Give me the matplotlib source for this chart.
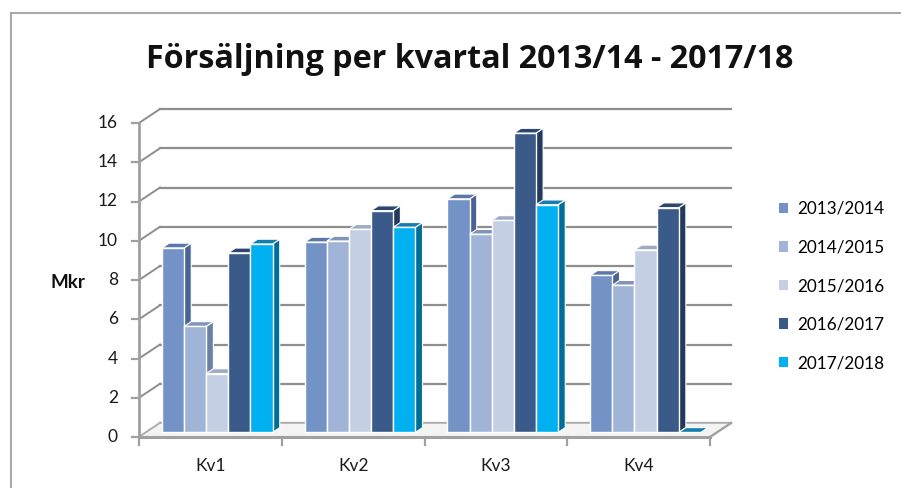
"""Försäljning per kvartal - pseudo-3D clustered columns (Excel style)."""

import matplotlib

matplotlib.use("Agg")

import matplotlib.pyplot as plt  # noqa: E402
from matplotlib.lines import Line2D  # noqa: E402
from matplotlib.patches import Patch, Polygon  # noqa: E402

# --- data -------------------------------------------------------------------
quarters = ["Kv1", "Kv2", "Kv3", "Kv4"]
seasons = ["2013/2014", "2014/2015", "2015/2016", "2016/2017", "2017/2018"]
values = {
    "2013/2014": [9.4, 9.7, 11.9, 8.0],
    "2014/2015": [5.4, 9.75, 10.1, 7.5],
    "2015/2016": [3.0, 10.35, 10.8, 9.3],
    "2016/2017": [9.15, 11.3, 15.25, 11.45],
    "2017/2018": [9.6, 10.45, 11.6, 0.0],
}
y_ticks = [0, 2, 4, 6, 8, 10, 12, 14, 16]

front_colors = ["#7393c6", "#a0b4d8", "#c4cfe3", "#3a5a8a", "#00b0f0"]
top_colors = ["#5c78aa", "#8195b8", "#9eabc4", "#2b4670", "#137fb0"]
side_colors = ["#4a6394", "#6c80a6", "#8d9ab3", "#233a5c", "#006f98"]

TITLE = "Försäljning per kvartal 2013/14 - 2017/18"
FONT = ["Lato", "DejaVu Sans"]
plt.rcParams["font.family"] = FONT

W, H = 901, 488
fig = plt.figure(figsize=(W / 100, H / 100), dpi=100)
fig.patch.set_facecolor("white")

# front plane of the plot: x 0..4 -> px 139..710, y 0..16 -> px 437..123
ax = fig.add_axes([139 / W, 1 - 437 / H, 571 / W, 314 / H])
ax.set_xlim(0, len(quarters))
ax.set_ylim(0, 16)
ax.axis("off")

# full depth of the 3D box, converted from pixels into data units
(x0, y0), (x1, y1) = ax.transData.transform([(0, 0), (1, 1)])
DX = 21 / (x1 - x0)
DY = 14 / (y1 - y0)

grid_c = "#8e8e8e"
axis_c = "#a0a0a0"


def shift(x, y, d):
    return (x + DX * d, y + DY * d)


def poly(pts, fc, ec="none", lw=0.0, z=1):
    ax.add_patch(
        Polygon(pts, closed=True, facecolor=fc, edgecolor=ec, linewidth=lw,
                zorder=z, clip_on=False, joinstyle="miter")
    )


# floor
nq = len(quarters)
poly([(0, 0), (nq, 0), shift(nq, 0, 1), shift(0, 0, 1)], "#f3f3f3",
     ec="#b0b0b0", lw=1.2, z=1)

# back wall gridlines and side wall diagonals
for v in y_ticks:
    bx0, by0 = shift(0, v, 1)
    bx1, by1 = shift(nq, v, 1)
    ax.add_line(Line2D([bx0, bx1], [by0, by1], color=grid_c, lw=1.6,
                       zorder=0.5, clip_on=False))
    ax.add_line(Line2D([0, bx0], [v, by0], color=grid_c, lw=1.4,
                       zorder=0.5, clip_on=False))

# bars
n = len(seasons)
bw = 0.155
gap = (1 - n * bw) / 2
d_front, d_back = 0.33, 0.67
for qi in range(nq):
    for si, s in enumerate(seasons):
        v = values[s][qi]
        xl = qi + gap + si * bw
        xr = xl + bw
        z = 2 + qi * 10 + si
        # right side face
        poly([shift(xr, 0, d_front), shift(xr, 0, d_back),
              shift(xr, v, d_back), shift(xr, v, d_front)],
             side_colors[si], ec="white", lw=0.8, z=z)
        # top face
        poly([shift(xl, v, d_front), shift(xr, v, d_front),
              shift(xr, v, d_back), shift(xl, v, d_back)],
             top_colors[si], ec="white", lw=0.8, z=z)
        # front face
        if v > 0:
            poly([shift(xl, 0, d_front), shift(xr, 0, d_front),
                  shift(xr, v, d_front), shift(xl, v, d_front)],
                 front_colors[si], ec="white", lw=1.0, z=z + 0.5)

# front axes
ax.add_line(Line2D([0, 0], [0, 16], color=axis_c, lw=2.0, zorder=60,
                   clip_on=False))
ax.add_line(Line2D([0, nq], [0, 0], color=axis_c, lw=2.2, zorder=60,
                   clip_on=False))
bx, by = shift(nq, 0, 1)
ax.add_line(Line2D([nq, bx], [0, by], color=axis_c, lw=1.6, zorder=60,
                   clip_on=False))

tick_dx = 7 / (x1 - x0)
tick_dy = 8 / (y1 - y0)
for v in y_ticks:
    ax.add_line(Line2D([-tick_dx, 0], [v, v], color=axis_c, lw=1.6,
                       zorder=60, clip_on=False))
    ax.text(-21 / (x1 - x0), v, str(v), ha="right", va="center",
            fontsize=12.5, color="#1a1a1a")
for qi in range(nq + 1):
    ax.add_line(Line2D([qi, qi], [0, -tick_dy], color=axis_c, lw=1.6,
                       zorder=60, clip_on=False))
for qi, q in enumerate(quarters):
    ax.text(qi + 0.5, -29 / (y1 - y0), q, ha="center", va="center",
            fontsize=12.5, color="#1a1a1a")

# texts
fig.text(470 / W, 1 - 68 / H, TITLE, ha="center", va="baseline",
         fontsize=23.2, fontweight="bold", color="#111111",
         family=["Open Sans", "DejaVu Sans"])
fig.text(68 / W, 1 - 283 / H, "Mkr", ha="center", va="center",
         fontsize=13.5, fontweight="bold", color="#111111")

handles = [Patch(facecolor=c, edgecolor="none") for c in front_colors]
fig.legend(handles, seasons, loc="center left",
           bbox_to_anchor=(779 / W, 1 - 286 / H), frameon=False,
           fontsize=12.3, handlelength=0.55, handleheight=0.55,
           handletextpad=0.5, labelspacing=1.32, borderpad=0.0,
           borderaxespad=0.0)

# chart border
fig.add_artist(Line2D([11 / W, 1], [1 - 13 / H, 1 - 13 / H],
                      transform=fig.transFigure, color="#a8a8a8", lw=1.5))
fig.add_artist(Line2D([11 / W, 11 / W], [1 - 13 / H, 0],
                      transform=fig.transFigure, color="#a8a8a8", lw=1.5))

fig.savefig("out.png", dpi=100)
plt.close(fig)
